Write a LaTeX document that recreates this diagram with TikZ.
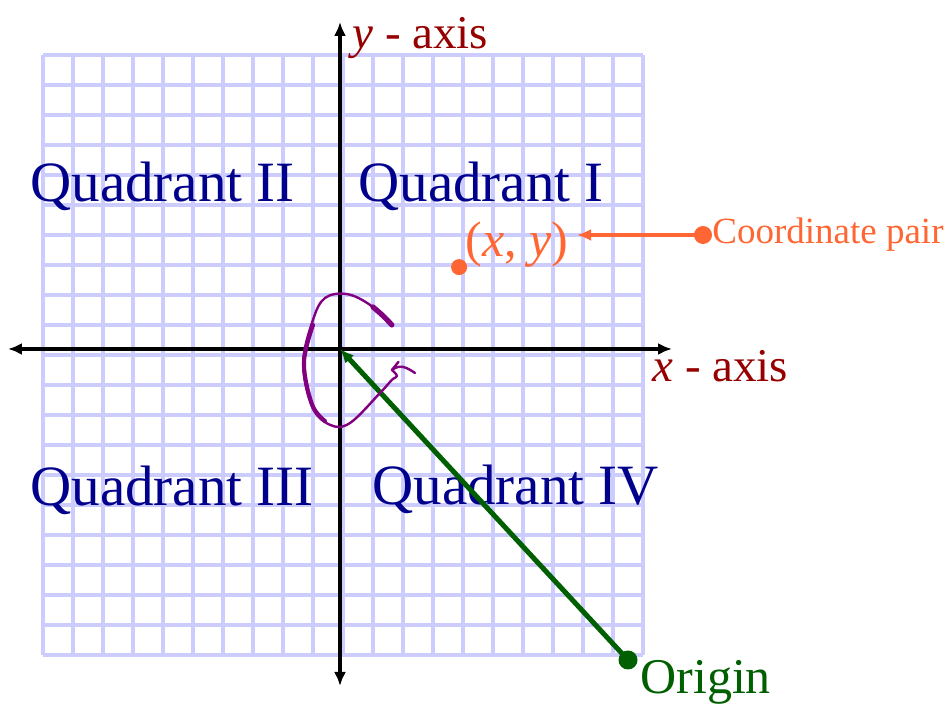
\documentclass[tikz,border=0pt]{standalone}
\usepackage{fontspec}
\setmainfont{Liberation Serif}
\usetikzlibrary{arrows.meta}
\definecolor{gridblue}{RGB}{204,204,255}
\definecolor{axisred}{RGB}{150,0,0}
\definecolor{quadblue}{RGB}{0,0,140}
\definecolor{pairorange}{RGB}{255,102,51}
\definecolor{origingreen}{RGB}{0,95,0}
\definecolor{handpurple}{RGB}{128,0,128}
\begin{document}
\begin{tikzpicture}[x=15pt, y=15pt,
		quadrant/.style={anchor=base west, inner sep=0pt, text=quadblue, font=\fontsize{28.5}{34}\selectfont},
		axislabel/.style={anchor=base west, inner sep=0pt, text=axisred, font=\fontsize{23.5}{28}\selectfont},
		dot/.style={circle, inner sep=0pt, minimum size=#1},
		tip/.style={-{Latex[length=7pt,width=6pt]}}]
	\useasboundingbox (-1.433,-1.633) rectangle (30.2,21.833);
	\draw[gridblue, line width=2.4pt, step=15pt] (0,0) grid (20,20);
	
	% axes
	\coordinate (O) at (9.9,10.2);
	\coordinate (xleft) at (-1.167,10.2);
	\coordinate (xright) at (20.967,10.2);
	\coordinate (ybottom) at (9.9,-1.033);
	\coordinate (ytop) at (9.9,21.1);
	\draw[line width=1.9pt, {Latex[length=7pt,width=6pt]}-{Latex[length=7pt,width=6pt]}] (xleft) -- (xright);
	\draw[line width=1.9pt, {Latex[length=7pt,width=6pt]}-{Latex[length=7pt,width=6pt]}] (ybottom) -- (ytop);
	\node[axislabel] (ylabel) at (10.3,20.23) {\textit{y} - axis};
	\node[axislabel] (xlabel) at (20.3,9.1) {\textit{x} - axis};
	
	% quadrants
	\node[quadrant] (q2) at (-0.433,15.13) {Quadrant II};
	\node[quadrant] (q1) at (10.5,15.13) {Quadrant I};
	\node[quadrant] (q3) at (-0.433,4.97) {Quadrant III};
	\node[quadrant] (q4) at (10.97,5.03) {Quadrant IV};
	
	% coordinate pair
	\node[dot=8pt, fill=pairorange] (point) at (13.87,12.93) {};
	\node[anchor=base west, inner sep=0pt, text=pairorange, font=\fontsize{25}{30}\selectfont] (pair) at (14.07,13.27) {(\textit{x}, \textit{y})};
	\node[dot=9pt, fill=pairorange] (pairdot) at (22.0,14.0) {};
	\coordinate (pairtip) at (17.8,14.0);
	\draw[pairorange, line width=2.3pt, tip] (pairdot.center) -- (pairtip);
	\node[anchor=base west, inner sep=0pt, text=pairorange, font=\fontsize{18.5}{22}\selectfont] (pairlabel) at (22.3,13.73) {Coordinate pair};
	
	% origin
	\node[dot=9.5pt, fill=origingreen] (origindot) at (19.5,-0.167) {};
	\draw[origingreen, line width=2.5pt, tip] (origindot.center) -- (O);
	\node[anchor=base west, inner sep=0pt, text=origingreen, font=\fontsize{25}{30}\selectfont] (originlabel) at (19.9,-1.3) {Origin};
	
	% hand drawn loop
	\draw[handpurple, line width=1.2pt, line cap=round, line join=round] plot[smooth, tension=0.6] coordinates {(11.63,11.0) (10.9,11.67) (10.13,12.03) (9.4,11.9) (9.0,11.17) (8.67,9.73) (8.97,8.27) (9.57,7.67) (10.23,7.73) (11.23,8.73) (11.63,9.17) (11.8,9.3) (11.63,9.5)};
	\draw[handpurple, line width=2.6pt, line cap=round] (11.63,11.0) .. controls (11.35,11.3) .. (11.0,11.6);
	\draw[handpurple, line width=2pt, line cap=round] plot[smooth, tension=0.6] coordinates {(9.0,11.0) (8.7,9.73) (8.97,8.35) (9.4,7.8)};
	\draw[handpurple, line width=1.2pt, line cap=round] (11.63,9.5) -- (11.85,9.77);
	\draw[handpurple, line width=1.2pt, line cap=round] (11.63,9.5) .. controls (11.9,9.7) and (12.1,9.6) .. (12.4,9.4);
\end{tikzpicture}
\end{document}
